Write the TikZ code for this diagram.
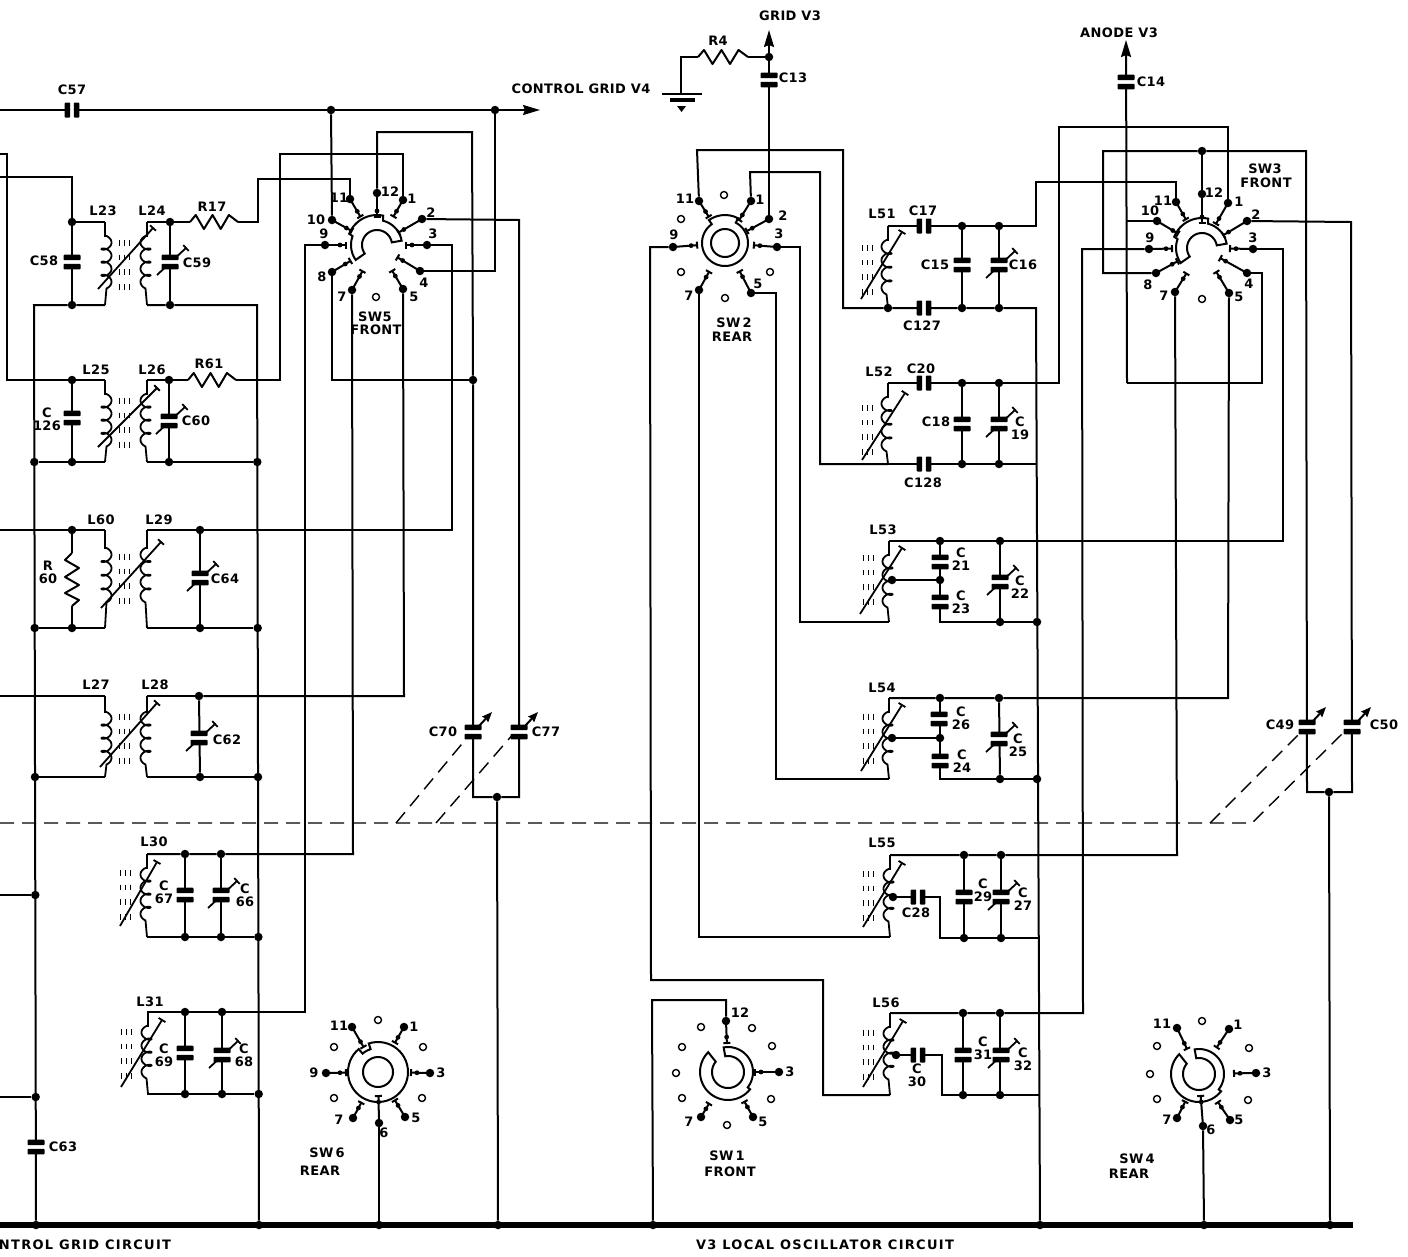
\documentclass[tikz,border=0pt]{standalone}
\usepackage{fontspec}
\setmainfont{DejaVu Sans}[LetterSpace=3]
\newfontfamily\wideF{DejaVu Sans}[LetterSpace=10]
\usetikzlibrary{calc,arrows.meta}
\tikzset{
 w/.style={draw=black,line width=2pt,line join=miter},
 dotj/.style={circle,fill=black,inner sep=0pt,minimum size=8.5pt},
 openT/.style={circle,draw=black,fill=white,line width=1.4pt,inner sep=0pt,minimum size=7pt},
 lbl/.style={font=\fontsize{13}{13}\selectfont\bfseries,inner sep=0pt,align=center},
 dsh/.style={draw=black,line width=1.4pt,dash pattern=on 14pt off 8pt},
 plate/.style={fill=black,rounded corners=0.8pt},
}
\newcounter{lblc}
\newcommand\Lb[3]{\stepcounter{lblc}\node[lbl] (lab\arabic{lblc}) at (#1,#2) {#3};}
\newcommand\Jn[3]{\node[dotj] (#1) at (#2,#3) {};}
\newcounter{openc}
\newcommand\Op[2]{\stepcounter{openc}\node[openT] (op\arabic{openc}) at (#1,#2) {};}
% contact: name,x,y,centre,radius of the inner end
\newcommand\Ct[5]{%
 \node[dotj] (#1) at (#2,#3) {};
 \coordinate (#1e) at ($(#4)!#5pt!(#1)$);
 \draw[w] (#1.center) -- (#1e);
 \draw[w] ($(#1e)!3.5pt!90:(#1)$) -- ($(#1e)!3.5pt!-90:(#1)$);
 \fill ($(#1e)!6pt!(#1)$) circle (2.4pt);
}
% wafer with stepped outline (SW5, SW3)
\newcommand\WafA[2]{\draw[w,fill=white]
 plot[domain=215:160,samples=12] ({#1+26*cos(\x)},{#2-26*sin(\x)})
 -- plot[domain=158:78,samples=16] ({#1+30*cos(\x)},{#2-30*sin(\x)})
 -- plot[domain=76:10,samples=12] ({#1+25*cos(\x)},{#2-25*sin(\x)})
 -- plot[domain=10:215,samples=24] ({#1+15*cos(\x)},{#2-15*sin(\x)}) -- cycle;}
% C-shaped wafer (SW1, SW4)
\newcommand\WafB[2]{\draw[w,fill=white]
 plot[domain=100:-38,samples=24] ({#1+25*cos(\x)},{#2-25*sin(\x)})
 -- plot[domain=-38:-225,samples=32] ({#1+28*cos(\x)},{#2-28*sin(\x)})
 -- plot[domain=-220:100,samples=48] ({#1+16*cos(\x)},{#2-16*sin(\x)}) -- cycle;}
% ring wafer: cx,cy,R,ri,a,b,R2
\newcommand\WafR[7]{\draw[w,fill=white]
 plot[domain=#5:#6-360,samples=48] ({#1+#3*cos(\x)},{#2-#3*sin(\x)})
 -- plot[domain=#6:#5,samples=8] ({#1+#7*cos(\x)},{#2-#7*sin(\x)}) -- cycle;
 \draw[w] plot[domain=0:360,samples=40] ({#1+#4*cos(\x)},{#2-#4*sin(\x)}) -- cycle;}
% capacitors
\newcommand\Cv[2]{\fill[white] (#1-8,#2-2) rectangle (#1+8,#2+2);
 \fill[plate] (#1-8.5,#2-7.3) rectangle (#1+8.5,#2-1.8);
 \fill[plate] (#1-8.5,#2+1.8) rectangle (#1+8.5,#2+7.3);}
\newcommand\Ch[2]{\fill[white] (#1-2,#2-7) rectangle (#1+2,#2+7);
 \fill[plate] (#1-7.3,#2-7.5) rectangle (#1-1.8,#2+7.5);
 \fill[plate] (#1+1.8,#2-7.5) rectangle (#1+7.3,#2+7.5);}
\newcommand\Trim[4]{\coordinate (ta) at (#1,#2); \coordinate (tb) at (#3,#4);
 \draw[line width=1.8pt] (ta) -- (tb);
 \draw[line width=1.8pt] ($(tb)!4pt!90:(ta)$) -- ($(tb)!4pt!-90:(ta)$);}
\newcommand\Cva[2]{\Trim{#1-13}{#2+13}{#1+16}{#2-14}\Cv{#1}{#2}}
\newcommand\Cga[2]{\Cv{#1}{#2}\draw[line width=2pt,-{Stealth[length=10pt,width=8pt,inset=1pt]}] (#1+6,#2-6) -- (#1+19,#2-20);}
% coil: x,ytop,ya,yb,ybot,side
\newcommand\Coil[6]{\draw[line width=1.8pt] (#1,#2) -- (#1,#3) --
 plot[domain=90:1350,samples=90,smooth] ({#1+#6*(1.5-5*cos(\x))},{#3+(#4-#3)/1260*(\x-90)-3.2*sin(\x)+3.2}) -- (#1,#5);}
\newcommand\Slug[2]{\foreach \k in {0,1,2,3}{\foreach \m in {0,5,10}{
 \draw[line width=1pt] (#1+\m,#2+\k*14.7) -- (#1+\m,#2+\k*14.7+5.5);}}}
\newcommand\Rh[3]{\draw[w,line join=round] (#1,#3)
 -- ++({(#2-#1)*.12},-7) -- ++({(#2-#1)*.17},14) -- ++({(#2-#1)*.18},-14)
 -- ++({(#2-#1)*.17},14) -- ++({(#2-#1)*.17},-14) -- (#2,#3);}
\begin{document}
\begin{tikzpicture}[x=1pt,y=-1pt]
\useasboundingbox (0,0) rectangle (1408,1256);
% free ends
\coordinate (tl) at (0,110); \coordinate (tr) at (540,110);
\coordinate (ls1) at (0,154); \coordinate (ls2) at (0,177);
\coordinate (ls3) at (0,530); \coordinate (ls4) at (0,696);
\coordinate (ls5) at (0,895); \coordinate (ls6) at (0,1097);
\coordinate (bl) at (0,1225); \coordinate (br) at (1353,1225);
% junctions, left part
\Jn{a1}{331}{110}\Jn{a2}{495}{110}
\Jn{b1}{72}{222}\Jn{b2}{170}{222}\Jn{b3}{72}{305}\Jn{b4}{170}{305}
\Jn{c1}{72}{380}\Jn{c2}{169}{380}\Jn{c3}{34.3}{462}\Jn{c4}{72}{462}\Jn{c5}{169}{462}\Jn{c6}{257.3}{462}
\Jn{d1}{72}{530}\Jn{d2}{200}{530}\Jn{d3}{34.7}{628}\Jn{d4}{72}{628}\Jn{d5}{200}{628}\Jn{d6}{257.7}{628}
\Jn{e1}{199}{696}\Jn{e2}{35}{777}\Jn{e3}{200}{777}\Jn{e4}{258}{777}
\Jn{f1}{185}{854}\Jn{f2}{221}{854}\Jn{f3}{185}{937}\Jn{f4}{221}{937}\Jn{f5}{258.4}{937}
\Jn{g1}{185}{1012}\Jn{g2}{222}{1012}\Jn{g3}{185}{1094}\Jn{g4}{222}{1094}\Jn{g5}{258.7}{1094}
\Jn{h1}{35.3}{895}\Jn{h2}{35.7}{1097}
\Jn{m1}{473}{380}\Jn{m2}{497}{797}
\Jn{k1}{36}{1225}\Jn{k2}{259}{1225}\Jn{k3}{379}{1225}\Jn{k4}{498}{1225}
\Jn{k5}{653}{1225}\Jn{k6}{1040}{1225}\Jn{k7}{1204}{1225}\Jn{k8}{1330}{1225}
% junctions, right part
\Jn{n1}{769}{57}
\Jn{p1}{888}{308}\Jn{p2}{962}{226}\Jn{p3}{999}{226}\Jn{p4}{962}{308}\Jn{p5}{999}{308}
\Jn{q1}{962}{383}\Jn{q2}{999}{383}\Jn{q3}{962}{464}\Jn{q4}{999}{464}
\Jn{r1}{940}{541}\Jn{r2}{1000}{541}\Jn{r3}{940}{580}\Jn{r4}{892}{580}\Jn{r5}{1000}{622}\Jn{r6}{1037}{622}
\Jn{s1}{940}{698}\Jn{s2}{999}{698}\Jn{s3}{940}{738}\Jn{s4}{892}{738}\Jn{s5}{1000}{779}\Jn{s6}{1037}{779}
\Jn{t1}{964}{855}\Jn{t2}{1001}{855}\Jn{t3}{964}{938}\Jn{t4}{1001}{938}\Jn{t5}{893}{897}
\Jn{u1}{963}{1013}\Jn{u2}{1000}{1013}\Jn{u3}{963}{1095}\Jn{u4}{1000}{1095}\Jn{u5}{896}{1055}
\Jn{v1}{1202}{151}\Jn{v2}{1329}{792}
% switch centres
\coordinate (S5c) at (377,245); \coordinate (S2c) at (725,243); \coordinate (S3c) at (1202,248);
\coordinate (S6c) at (378,1072); \coordinate (S1c) at (728,1072); \coordinate (S4c) at (1199,1074);
% wafers
\WafA{377}{245}\WafA{1202}{248}
\WafR{725}{243}{23}{14}{62}{125}{28}
\WafR{378}{1072}{30}{15}{108}{130}{24}
\WafB{728}{1072}\WafB{1199}{1074}
% SW5
\Ct{S5-1}{403}{200}{S5c}{33}\Ct{S5-2}{422}{219}{S5c}{25}\Ct{S5-3}{427}{245}{S5c}{29}
\Ct{S5-4}{420}{271}{S5c}{24}\Ct{S5-5}{403}{289}{S5c}{30}\Ct{S5-7}{352}{290}{S5c}{30}
\Ct{S5-8}{332}{272}{S5c}{31}\Ct{S5-9}{325}{245}{S5c}{31}\Ct{S5-10}{332}{220}{S5c}{29}
\Ct{S5-11}{350}{199}{S5c}{33}\Ct{S5-12}{377}{193}{S5c}{28}
\Op{376}{297}
% SW2
\Ct{S2-11}{699}{201}{S2c}{31}\Ct{S2-1}{751}{201}{S2c}{27}\Ct{S2-2}{769}{219}{S2c}{25}
\Ct{S2-3}{777}{247}{S2c}{29}\Ct{S2-5}{751}{293}{S2c}{32}\Ct{S2-7}{699}{290}{S2c}{33}
\Ct{S2-9}{673}{247}{S2c}{28}
\Op{724}{195}\Op{770}{272}\Op{725}{298}\Op{681}{272}\Op{681}{219}
% SW3
\Ct{S3-11}{1176}{202}{S3c}{33}\Ct{S3-12}{1202}{194}{S3c}{25}\Ct{S3-1}{1228}{203}{S3c}{28}
\Ct{S3-2}{1247}{221}{S3c}{25}\Ct{S3-3}{1253}{249}{S3c}{28}\Ct{S3-4}{1247}{273}{S3c}{21}
\Ct{S3-5}{1229}{293}{S3c}{28}\Ct{S3-7}{1175}{292}{S3c}{30}\Ct{S3-8}{1156}{273}{S3c}{28}
\Ct{S3-9}{1149}{249}{S3c}{30}\Ct{S3-10}{1157}{221}{S3c}{28}
\Op{1202}{299}
% SW6
\Ct{S6-11}{352}{1027}{S6c}{29}\Ct{S6-1}{404}{1027}{S6c}{34}\Ct{S6-3}{430}{1073}{S6c}{33}
\Ct{S6-5}{405}{1117}{S6c}{33}\Ct{S6-6}{379}{1123}{S6c}{24}\Ct{S6-7}{353}{1118}{S6c}{35}
\Ct{S6-9}{326}{1073}{S6c}{32}
\Op{378}{1020}\Op{423}{1047}\Op{422}{1098}\Op{334}{1098}\Op{334}{1047}
% SW1
\Ct{S1-12}{726}{1021}{S1c}{29}\Ct{S1-3}{779}{1072}{S1c}{27}\Ct{S1-5}{753}{1117}{S1c}{34}
\Ct{S1-7}{701}{1117}{S1c}{37}
\Op{752}{1028}\Op{772}{1046}\Op{771}{1099}\Op{727}{1125}\Op{682}{1098}\Op{676}{1073}\Op{682}{1047}\Op{701}{1027}
% SW4
\Ct{S4-11}{1177}{1028}{S4c}{28}\Ct{S4-1}{1229}{1029}{S4c}{32}\Ct{S4-3}{1256}{1073}{S4c}{35}
\Ct{S4-5}{1230}{1120}{S4c}{34}\Ct{S4-6}{1203}{1126}{S4c}{22}\Ct{S4-7}{1177}{1118}{S4c}{31}
\Op{1202}{1021}\Op{1249}{1048}\Op{1248}{1100}\Op{1157}{1099}\Op{1150}{1074}\Op{1157}{1046}
% wires, bus
\draw[line width=6pt] (bl) -- (br);
% wires, left
\draw[w,-{Stealth[length=17pt,width=10pt,inset=2pt]}] (tl) -- (tr);
\draw[w] (ls1) -- (7,154) -- (7,380) -- (c1) -- (105,380);
\draw[w] (ls2) -- (72,177) -- (b1);
\draw[w] (b1) -- (105,222);
\draw[w] (b1) -- (b3);
\draw[w] (105,305) -- (b3) -- (34,305) -- (k1);
\draw[w] (147,222) -- (b2) -- (190,222);
\draw[w] (b2) -- (b4);
\draw[w] (238,222) -- (258,222) -- (258,179) -- (350,179) -- (S5-11);
\draw[w] (147,305) -- (b4) -- (257,305) -- (k2);
\draw[w] (c1) -- (c4);
\draw[w] (c3) -- (c4) -- (105,462);
\draw[w] (147,380) -- (c2) -- (188,380);
\draw[w] (c2) -- (c5);
\draw[w] (236,380) -- (280,380) -- (280,154) -- (403,154) -- (S5-1);
\draw[w] (147,462) -- (c5) -- (c6);
\draw[w] (ls3) -- (d1) -- (105,530);
\draw[w] (d3) -- (d4) -- (105,628);
\draw[w] (d1) -- (72,553);
\draw[w] (72,606) -- (d4);
\draw[w] (147,530) -- (d2);
\draw[w] (d2) -- (d5);
\draw[w] (147,628) -- (d5) -- (d6);
\draw[w] (d2) -- (452,530) -- (452,245) -- (S5-3);
\draw[w] (ls4) -- (105,696);
\draw[w] (e2) -- (105,777);
\draw[w] (147,696) -- (e1);
\draw[w] (e1) -- (e3);
\draw[w] (147,777) -- (e3) -- (e4);
\draw[w] (e1) -- (404,696) -- (S5-5);
\draw[w] (147,854) -- (f1) -- (f2) -- (353,854) -- (S5-7);
\draw[w] (147,937) -- (f3) -- (f4) -- (f5);
\draw[w] (f1) -- (f3);
\draw[w] (f2) -- (f4);
\draw[w] (147,1012) -- (g1) -- (g2) -- (305,1012) -- (305,245) -- (S5-9);
\draw[w] (147,1094) -- (g3) -- (g4) -- (g5);
\draw[w] (g1) -- (g3);
\draw[w] (g2) -- (g4);
\draw[w] (ls5) -- (h1);
\draw[w] (ls6) -- (h2);
\draw[w] (a1) -- (S5-10);
\draw[w] (a2) -- (495,271) -- (S5-4);
\draw[w] (S5-12) -- (377,132) -- (472,132) -- (m1) -- (473,797) -- (m2);
\draw[w] (S5-8) -- (332,380) -- (m1);
\draw[w] (S5-2) -- (519,220) -- (519,797) -- (m2);
\draw[w] (m2) -- (k4);
\draw[w] (S6-6) -- (k3);
% wires, right
\draw[w,-{Stealth[length=17pt,width=10pt,inset=2pt]}] (S2-2) -- (769,30);
\draw[w] (n1) -- (748,57);
\draw[w] (698,57) -- (681,57) -- (681,94);
\draw[w] (S2-11) -- (697,150) -- (843,150) -- (843,308) -- (p1);
\draw[w] (S2-1) -- (750,172) -- (820,172) -- (820,464) -- (888,464);
\draw[w] (S2-3) -- (800,247) -- (800,622) -- (889,622);
\draw[w] (S2-5) -- (776,293) -- (776,779) -- (889,779);
\draw[w] (S2-7) -- (699,937) -- (890,937);
\draw[w] (S2-9) -- (650,247) -- (651,980) -- (823,980) -- (823,1095) -- (890,1095);
\draw[w] (k5) -- (652,1000) -- (726,1000) -- (S1-12);
\draw[w] (888,226) -- (p2) -- (p3) -- (1036,226) -- (1036,182) -- (1176,182) -- (S3-11);
\draw[w] (p1) -- (p4) -- (p5) -- (1036,308) -- (k6);
\draw[w] (p2) -- (p4);
\draw[w] (p3) -- (p5);
\draw[w] (888,383) -- (q1) -- (q2) -- (1059,383) -- (1059,127) -- (1228,127) -- (S3-1);
\draw[w] (888,464) -- (q3) -- (q4) -- (1037,464);
\draw[w] (q1) -- (q3);
\draw[w] (q2) -- (q4);
\draw[w] (889,541) -- (r1) -- (r2) -- (1283,541) -- (1283,249) -- (S3-3);
\draw[w] (r1) -- (r3);
\draw[w] (r3) -- (940,622) -- (r5) -- (r6);
\draw[w] (r4) -- (r3);
\draw[w] (r2) -- (r5);
\draw[w] (889,698) -- (s1) -- (s2) -- (1228,698) -- (S3-5);
\draw[w] (s1) -- (s3);
\draw[w] (s3) -- (940,779) -- (s5) -- (s6);
\draw[w] (s4) -- (s3);
\draw[w] (s2) -- (s5);
\draw[w] (890,855) -- (t1) -- (t2) -- (1177,855) -- (S3-7);
\draw[w] (t1) -- (t3);
\draw[w] (t2) -- (t4);
\draw[w] (t5) -- (940,897) -- (940,938) -- (t3) -- (t4) -- (1038,938);
\draw[w] (890,1013) -- (u1) -- (u2) -- (1083,1013) -- (1082,249) -- (S3-9);
\draw[w] (u1) -- (u3);
\draw[w] (u2) -- (u4);
\draw[w] (u5) -- (942,1055) -- (942,1095) -- (u3) -- (u4) -- (1039,1095);
\draw[w,-{Stealth[length=17pt,width=10pt,inset=2pt]}] (1127,383) -- (1126,40);
\draw[w] (S3-10) -- (1127,221);
\draw[w] (1127,383) -- (1262,383) -- (1262,273) -- (S3-4);
\draw[w] (S3-12) -- (v1);
\draw[w] (S3-8) -- (1103,273) -- (1103,151) -- (v1) -- (1306,151) -- (1307,792) -- (v2);
\draw[w] (S3-2) -- (1351,222) -- (1352,792) -- (v2);
\draw[w] (v2) -- (k8);
\draw[w] (S4-6) -- (k7);
% ganged dashed link
\coordinate (da) at (0,823); \coordinate (db) at (1252,823); \coordinate (dc) at (1343,733);
\draw[dsh] (da) -- (db) -- (dc);
\draw[dsh] (396,823) -- (471,733);
\draw[dsh] (436,823) -- (514,733);
\draw[dsh] (1210,823) -- (1300,733);
% ground
\draw[line width=2.8pt] (662,94) -- (702,94);
\draw[line width=3.8pt] (670,100) -- (695,100);
\fill (677,106) -- (686,106) -- (681.5,112) -- cycle;
% coils
\Coil{105}{222}{236}{282}{305}{1}\Coil{147}{222}{236}{282}{305}{-1}\Slug{119}{240}\Trim{98}{289}{153}{228}
\Coil{105}{380}{394}{440}{462}{1}\Coil{147}{380}{394}{440}{462}{-1}\Slug{119}{398}\Trim{98}{447}{157}{388}
\Coil{105}{530}{548}{596}{628}{1}\Coil{147}{530}{548}{596}{628}{-1}\Slug{119}{554}\Trim{101}{608}{161}{542}
\Coil{105}{696}{712}{758}{777}{1}\Coil{147}{696}{712}{758}{777}{-1}\Slug{119}{714}\Trim{100}{767}{157}{703}
\Coil{147}{854}{868}{914}{937}{-1}\Slug{120}{870}\Trim{120}{926}{157}{862}
\Coil{148}{1012}{1026}{1072}{1094}{-1}\Slug{121}{1029}\Trim{121}{1087}{162}{1020}
\Coil{888}{226}{240}{288}{308}{-1}\Slug{862}{245}\Trim{861}{299}{902}{232}
\Coil{888}{383}{397}{445}{464}{-1}\Slug{862}{405}\Trim{862}{460}{905}{393}
\Coil{889}{541}{555}{601}{622}{-1}\Slug{863}{555}\Trim{860}{614}{902}{548}
\Coil{889}{698}{712}{758}{779}{-1}\Slug{863}{714}\Trim{861}{771}{902}{705}
\Coil{890}{855}{869}{915}{937}{-1}\Slug{863}{871}\Trim{863}{927}{902}{863}
\Coil{890}{1013}{1027}{1073}{1095}{-1}\Slug{863}{1030}\Trim{863}{1087}{903}{1021}
% resistors
\Rh{190}{238}{222}\Rh{188}{236}{380}\Rh{698}{748}{57}
\draw[w,line join=round] (72,553) -- (65,560) -- (79,568) -- (65,577) -- (79,585) -- (65,593) -- (79,600) -- (72,606);
% capacitors
\Ch{72}{110}\Cv{72}{262}\Cva{170}{262}\Cv{72}{418}\Cva{169}{421}\Cva{200}{578}\Cva{199}{738}
\Cv{185}{895}\Cva{221}{895}\Cv{185}{1053}\Cva{222}{1055}\Cv{36}{1147}
\Cga{473}{732}\Cga{519}{732}\Cga{1307}{727}\Cga{1352}{727}
\Cv{769}{80}\Cv{1126}{82}
\Ch{924}{226}\Ch{924}{308}\Cv{962}{265}\Cva{999}{265}
\Ch{924}{383}\Ch{924}{464}\Cv{962}{424}\Cva{999}{424}
\Cv{940}{562}\Cv{940}{602}\Cva{1000}{582}
\Cv{939}{719}\Cv{940}{761}\Cva{999}{739}
\Ch{918}{897}\Cv{964}{897}\Cva{1001}{897}
\Ch{918}{1055}\Cv{963}{1055}\Cva{1001}{1055}
% labels
\Lb{72}{90}{C57}\Lb{581}{89}{CONTROL GRID V4}
\Lb{103}{211}{L23}\Lb{152}{211}{L24}\Lb{212}{207}{R17}\Lb{44}{261}{C58}\Lb{197}{263}{C59}
\Lb{96}{370}{L25}\Lb{152}{370}{L26}\Lb{209}{364}{R61}\Lb{47}{419}{C\\126}\Lb{196}{421}{C60}
\Lb{101}{520}{L60}\Lb{159}{520}{L29}\Lb{48}{572}{R\\60}\Lb{225}{579}{C64}
\Lb{96}{685}{L27}\Lb{155}{685}{L28}\Lb{227}{740}{C62}
\Lb{154}{842}{L30}\Lb{164}{892}{C\\67}\Lb{245}{895}{C\\66}
\Lb{150}{1002}{L31}\Lb{164}{1055}{C\\69}\Lb{244}{1055}{C\\68}\Lb{63}{1147}{C63}
\Lb{443}{732}{C70}\Lb{546}{732}{C77}\Lb{1280}{725}{C49}\Lb{1384}{725}{C50}
\Lb{85}{1245}{\wideF\bfseries NTROL GRID CIRCUIT}\Lb{825}{1245}{\wideF\bfseries V3 LOCAL OSCILLATOR CIRCUIT}
\Lb{790}{16}{GRID V3}\Lb{718}{41}{R4}\Lb{793}{78}{C13}\Lb{1119}{33}{ANODE V3}\Lb{1151}{82}{C14}
% SW5 labels
\Lb{316}{220}{10}\Lb{339}{198}{11}\Lb{390}{192}{12}\Lb{412}{199}{1}\Lb{431}{213}{2}\Lb{433}{234}{3}
\Lb{424}{283}{4}\Lb{414}{297}{5}\Lb{342}{297}{7}\Lb{322}{277}{8}\Lb{324}{234}{9}
\Lb{375}{317}{SW5}\Lb{376}{330}{FRONT}
% SW2 labels
\Lb{685}{199}{11}\Lb{760}{200}{1}\Lb{783}{216}{2}\Lb{779}{234}{3}\Lb{758}{284}{5}\Lb{689}{296}{7}\Lb{674}{235}{9}
\Lb{734}{323}{SW\,2}\Lb{732}{337}{REAR}
% SW3 labels
\Lb{1163}{201}{11}\Lb{1214}{193}{12}\Lb{1239}{202}{1}\Lb{1256}{215}{2}\Lb{1253}{238}{3}\Lb{1249}{284}{4}
\Lb{1239}{297}{5}\Lb{1164}{296}{7}\Lb{1148}{285}{8}\Lb{1150}{238}{9}\Lb{1150}{211}{10}
\Lb{1265}{169}{SW3}\Lb{1266}{183}{FRONT}
% SW6 labels
\Lb{339}{1026}{11}\Lb{414}{1027}{1}\Lb{441}{1073}{3}\Lb{416}{1118}{5}\Lb{384}{1133}{6}\Lb{339}{1120}{7}\Lb{314}{1073}{9}
\Lb{327}{1153}{SW\,6}\Lb{320}{1171}{REAR}
% SW1 labels
\Lb{740}{1013}{12}\Lb{790}{1072}{3}\Lb{763}{1122}{5}\Lb{689}{1122}{7}\Lb{727}{1156}{SW\,1}\Lb{730}{1172}{FRONT}
% SW4 labels
\Lb{1162}{1024}{11}\Lb{1238}{1025}{1}\Lb{1267}{1073}{3}\Lb{1239}{1120}{5}\Lb{1211}{1130}{6}\Lb{1167}{1120}{7}
\Lb{1137}{1159}{SW\,4}\Lb{1129}{1174}{REAR}
% right labels
\Lb{882}{214}{L51}\Lb{923}{211}{C17}\Lb{935}{265}{C15}\Lb{1023}{265}{C16}\Lb{922}{326}{C127}
\Lb{879}{372}{L52}\Lb{921}{369}{C20}\Lb{936}{422}{C18}\Lb{1020}{428}{C\\19}\Lb{923}{483}{C128}
\Lb{883}{530}{L53}\Lb{961}{559}{C\\21}\Lb{961}{602}{C\\23}\Lb{1020}{587}{C\\22}
\Lb{882}{688}{L54}\Lb{961}{718}{C\\26}\Lb{962}{761}{C\\24}\Lb{1018}{745}{C\\25}
\Lb{882}{843}{L55}\Lb{916}{913}{C28}\Lb{983}{890}{C\\29}\Lb{1023}{899}{C\\27}
\Lb{886}{1003}{L56}\Lb{917}{1075}{C\\30}\Lb{983}{1048}{C\\31}\Lb{1023}{1059}{C\\32}
\end{tikzpicture}
\end{document}
